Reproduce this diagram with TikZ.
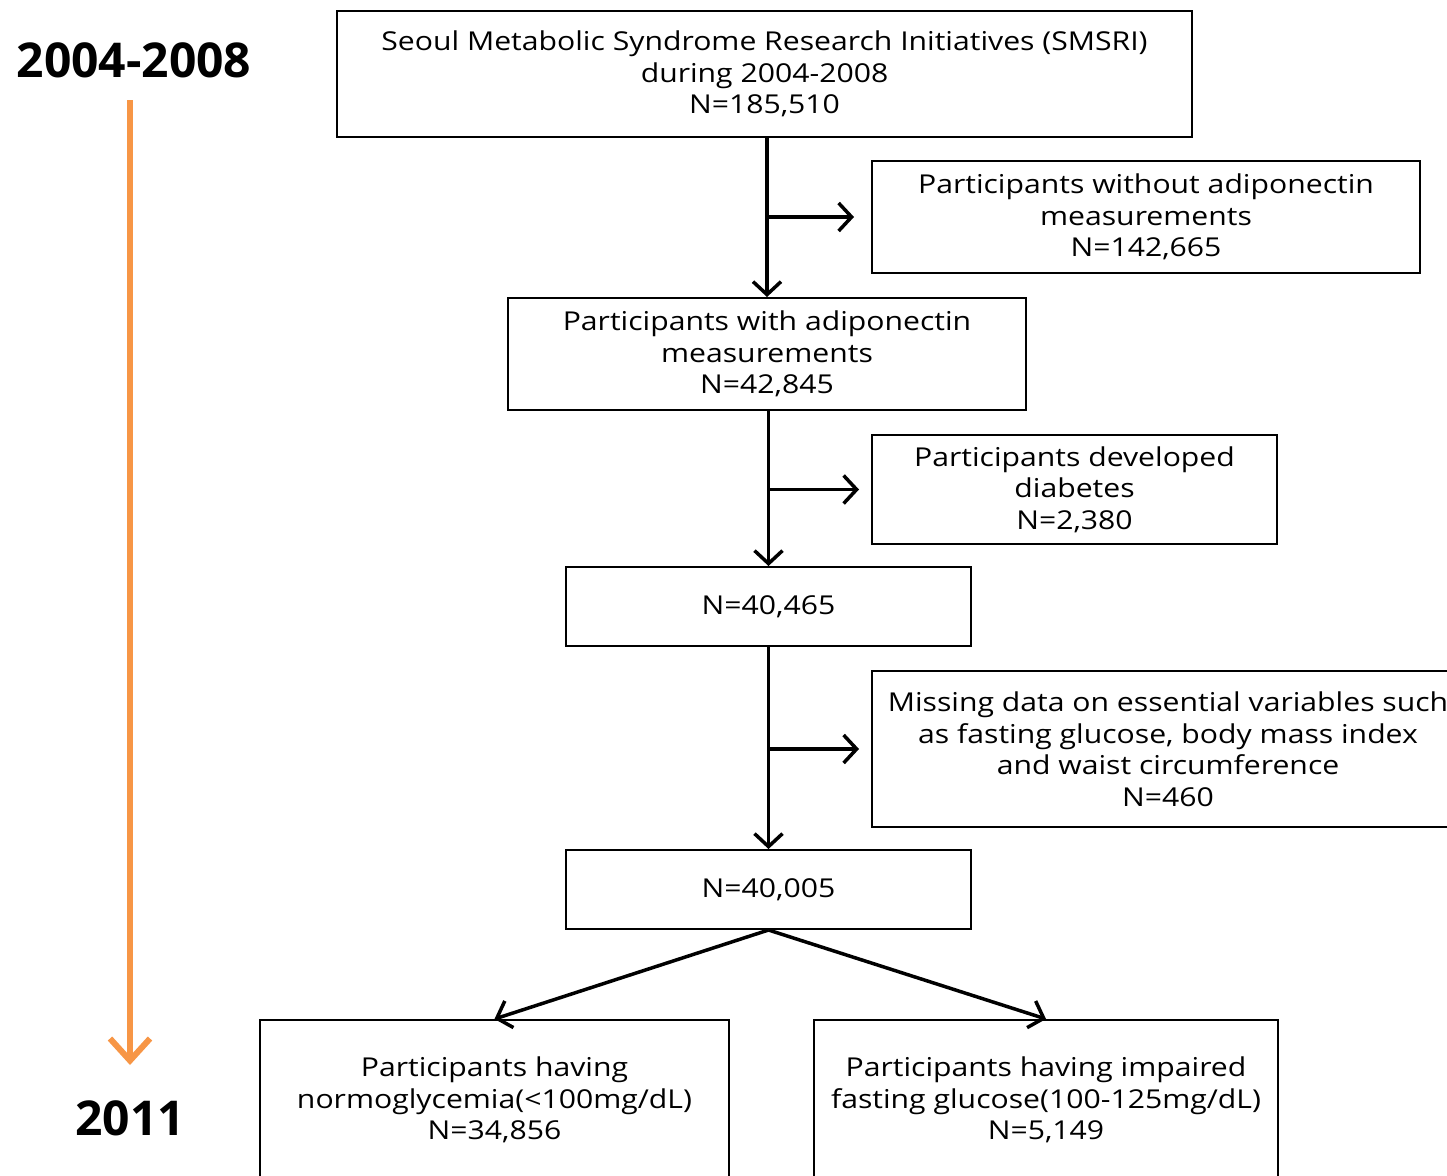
\documentclass[tikz,border=0pt]{standalone}
\usepackage{fontspec}
\setmainfont{Open Sans}
\newfontfamily\boxfont[FakeStretch=1.16]{Open Sans}
\usetikzlibrary{arrows.meta}
\definecolor{timeorange}{HTML}{F79646}
\begin{document}
\begin{tikzpicture}[x=1pt, y=-1pt,
    box/.style={draw, line width=2pt, inner sep=0pt, align=center,
      font=\boxfont\fontsize{26}{31.5}\selectfont},
    arr/.style={line width=3.5pt, -{Straight Barb[length=13pt, width=28pt, line width=3.5pt]}},
    yearlbl/.style={font=\fontsize{48}{54}\selectfont\bfseries}]
      \def\gap{17}

      \clip (0, 0) rectangle (1447, 1175) ;

      \node[box, minimum width=855, minimum height=126] (smsri) at (764.5, 74)
        {Seoul Metabolic Syndrome Research Initiatives (SMSRI)\\during 2004-2008\\N=185,510} ;
      \node[box, minimum width=548, minimum height=112] (noadipo) at (1146, 217)
        {Participants without adiponectin\\measurements\\N=142,665} ;
      \node[box, minimum width=518, minimum height=112] (adipo) at (767, 354)
        {Participants with adiponectin\\measurements\\N=42,845} ;
      \node[box, minimum width=405, minimum height=109] (diab) at (1074.5, 489.5)
        {Participants developed\\diabetes\\N=2,380} ;
      \node[box, minimum width=405, minimum height=79] (nodiab) at (768.5, 606.5)
        {N=40,465} ;
      \node[box, minimum width=592, minimum height=156] (missing) at (1168, 749)
        {Missing data on essential variables such\\as fasting glucose, body mass index\\and waist circumference\\N=460} ;
      \node[box, minimum width=405, minimum height=79] (final) at (768.5, 889.5)
        {N=40,005} ;
      \node[box, minimum width=469, minimum height=160] (normo) at (494.5, 1100)
        {Participants having\\normoglycemia(<100mg/dL)\\N=34,856} ;
      \node[box, minimum width=464, minimum height=160] (ifg) at (1046, 1100)
        {Participants having impaired\\fasting glucose(100-125mg/dL)\\N=5,149} ;

      \draw[arr] (adipo.north |- smsri.south) -- (adipo.north) ;
      \draw[arr] (adipo.north |- noadipo.west) -- ([xshift=-\gap]noadipo.west) ;
      \draw[arr] (nodiab.north |- adipo.south) -- (nodiab.north) ;
      \draw[arr] (nodiab.north |- diab.west) -- ([xshift=-12]diab.west) ;
      \draw[arr] (nodiab.south) -- (final.north) ;
      \draw[arr] (nodiab.south |- missing.west) -- ([xshift=-12]missing.west) ;
      \draw[arr] (final.south) -- (normo.north) ;
      \draw[arr] (final.south) -- (ifg.north) ;

      \node[yearlbl] (start) at (134, 60) {2004-2008} ;
      \node[yearlbl] (stop) at (130, 1118) {2011} ;
      \coordinate (t0) at (130, 100) ;
      \coordinate (t1) at (130, 1065) ;
      \draw[timeorange, line width=6pt, -{Straight Barb[length=22pt, width=40pt, line width=6pt]}] (t0) -- (t1) ;
\end{tikzpicture}
\end{document}
